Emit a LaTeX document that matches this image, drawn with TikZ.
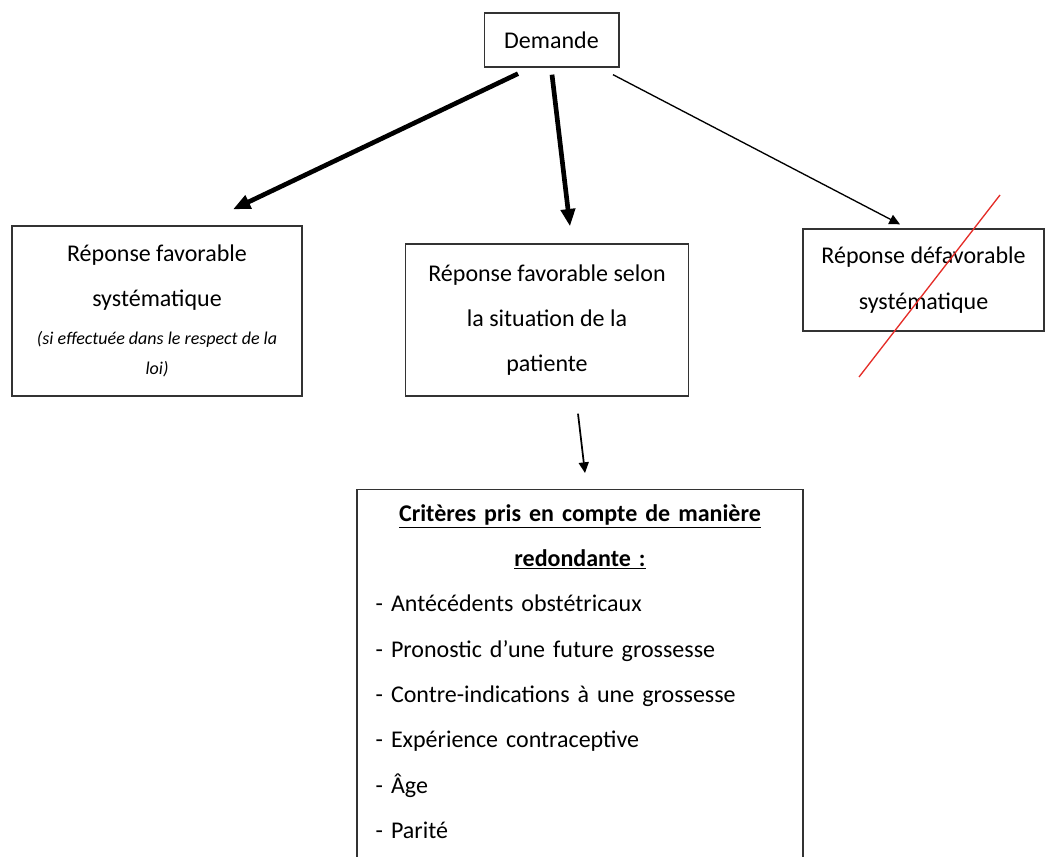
\documentclass[tikz,border=0pt]{standalone}
\usepackage{fontspec}
\setmainfont{Carlito}
\usetikzlibrary{arrows.meta}
\setlength{\parindent}{0pt}
\definecolor{strike}{RGB}{228,45,40}

\begin{document}
\begin{tikzpicture}[x=0.75pt, y=-0.75pt,
    box/.style={draw=black!80, line width=1pt, align=center, inner sep=0pt, font=\fontsize{18}{34}\selectfont},
    big/.style={-{Triangle[length=13pt,width=10.5pt]}, line width=3.5pt},
    fine/.style={-{Triangle[length=8pt,width=7.5pt]}, line width=1pt}
]
    \useasboundingbox (0,0) rectangle (1045,856);
    \clip (0,0) rectangle (1045,856);

    % Demand
    \node[box, minimum width=101pt, minimum height=40.5pt] (dem) at (551.5,40) {Demande};

    % Three possible answers
    \node[box, minimum width=217.5pt, minimum height=127.5pt] (fav) at (157,311) {Réponse favorable\\systématique\\[-5.5pt]{\fontsize{13.5}{22}\selectfont\itshape (si effectuée dans le respect de la}\\[-11.5pt]{\fontsize{13.5}{22}\selectfont\itshape loi)}};
    \node[box, minimum width=212pt, minimum height=114pt] (sel) at (547,320) {Réponse favorable selon\\la situation de la\\patiente};
    \node[box, minimum width=180.75pt, minimum height=76.5pt] (defav) at (923.5,280) {Réponse défavorable\\systématique};

    % Criteria (box runs off the bottom edge)
    \node[box, anchor=north, align=left, text width=306.5pt, inner xsep=14pt, inner ysep=11pt] (crit) at (580,489) {{\centering\textbf{\underline{Critères pris en compte de manière}}\\\textbf{\underline{redondante :}}\par}
    - Antécédents obstétricaux\\
    - Pronostic d’une future grossesse\\
    - Contre-indications à une grossesse\\
    - Expérience contraceptive\\
    - Âge\\
    - Parité\rule[-40pt]{0pt}{1pt}};

    % Arrows
    \draw[big] ([shift={(-33.5,6)}]dem.south) -- ([shift={(76,-16)}]fav.north);
    \draw[big] ([shift={(0.5,7)}]dem.south) -- ([shift={(23,-17)}]sel.north);
    \draw[fine] ([shift={(61.5,7)}]dem.south) -- ([shift={(-23.5,-4)}]defav.north);
    \draw[fine, line width=1.3pt] ([shift={(31,17)}]sel.south) -- ([shift={(5,-16)}]crit.north);

    % Crossed out
    \draw[strike, line width=1pt] (1000,195) -- (859,377);
\end{tikzpicture}
\end{document}
